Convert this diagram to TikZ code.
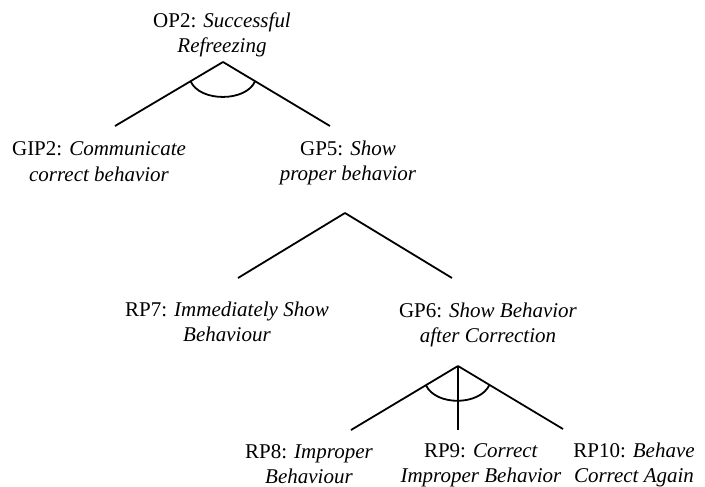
\documentclass[tikz,border=0pt]{standalone}
\usepackage{fontspec}
\setmainfont{Liberation Serif}
\usetikzlibrary{calc}
\begin{document}
\begin{tikzpicture}[
    x=1pt, y=-1pt,
    every node/.style={align=center},
    goal/.style={anchor=base, inner sep=0pt, font=\fontsize{21}{25}\selectfont},
    branch/.style={draw, line width=1.8pt},
    and arc/.style={draw, line width=1.8pt},
    ]
\useasboundingbox (0,0) rectangle (705,487);
\node[goal] (OP2) at (222,53) {OP2: \textit{Successful}\\\textit{Refreezing}};
\node[goal] (GIP2) at (99,181) {GIP2: \textit{Communicate}\\\textit{correct behavior}};
\node[goal] (GP5) at (348,180) {GP5: \textit{Show}\\\textit{proper behavior}};
\node[goal] (RP7) at (227,341) {RP7: \textit{Immediately Show}\\\textit{Behaviour}};
\node[goal] (GP6) at (488,342) {GP6: \textit{Show Behavior}\\\textit{after Correction}};
\node[goal] (RP8) at (309,483) {RP8: \textit{Improper}\\\textit{Behaviour}};
\node[goal] (RP9) at (481,482) {RP9: \textit{Correct}\\\textit{Improper Behavior}};
\node[goal] (RP10) at (634,482) {RP10: \textit{Behave}\\\textit{Correct Again}};
% decomposition points
\coordinate (OP2-split) at (223,62);
\coordinate (GIP2-top) at (115,126);
\coordinate (GP5-top) at (330,126);
\coordinate (GP5-split) at (345,213);
\coordinate (RP7-top) at (238,278);
\coordinate (GP6-top) at (452,278);
\coordinate (GP6-split) at (458,366);
\coordinate (RP8-top) at (351,430);
\coordinate (RP9-top) at (458,430);
\coordinate (RP10-top) at (563,429);
\draw[branch] (OP2-split) -- (GIP2-top);
\draw[branch] (OP2-split) -- (GP5-top);
\draw[branch] (GP5-split) -- (RP7-top);
\draw[branch] (GP5-split) -- (GP6-top);
\draw[branch] (GP6-split) -- (RP8-top);
\draw[branch] (GP6-split) -- (RP9-top);
\draw[branch] (GP6-split) -- (RP10-top);
% AND arcs
\draw[and arc] ($(OP2-split)!0.3!(GIP2-top)$) .. controls +(9,21) and +(-9,21) .. ($(OP2-split)!0.3!(GP5-top)$);
\draw[and arc] ($(GP6-split)!0.3!(RP8-top)$) .. controls +(10,21) and +(-10,21) .. ($(GP6-split)!0.3!(RP10-top)$);
\end{tikzpicture}
\end{document}
